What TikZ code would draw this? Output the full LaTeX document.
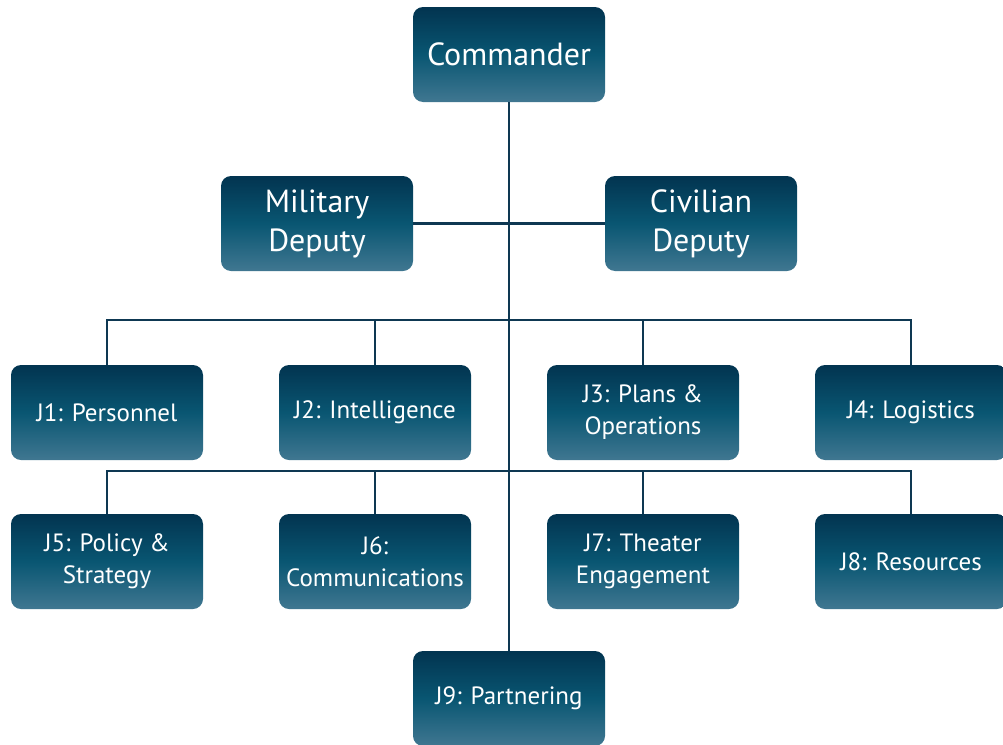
\documentclass[tikz,border=0pt]{standalone}
\usepackage{fontspec}
\setmainfont{PT Sans}
\usetikzlibrary{positioning}

\definecolor{boxtop}{RGB}{2,52,80}
\definecolor{boxmid}{RGB}{9,86,114}
\definecolor{boxbot}{RGB}{64,119,145}
\definecolor{linkcol}{RGB}{14,56,82}

\tikzset{
    orgbox/.style={rounded corners=10pt, minimum width=192pt, minimum height=95pt,
        inner sep=0pt, align=center, text=white,
        top color=boxtop, bottom color=boxbot, middle color=boxmid},
    bigbox/.style={orgbox, font=\fontsize{32}{39}\selectfont},
    smallbox/.style={orgbox, font=\fontsize{25}{32}\selectfont},
    link/.style={linkcol, line width=2.8pt}
}

\begin{document}
\begin{tikzpicture}[x=1pt, y=-1pt]
    \useasboundingbox (0,0) rectangle (1003,744);

    \node[bigbox] (cmd) at (509,54.5) {Commander};
    \node[bigbox] (mil) at (317,223.5) {Military\\Deputy};
    \node[bigbox] (civ) at (701,223.5) {Civilian\\Deputy};

    \node[smallbox] (j1) at (107,412.5) {J1: Personnel};
    \node[smallbox] (j2) at (375,412.5) {J2: Intelligence};
    \node[smallbox] (j3) at (643,412.5) {J3: Plans \&\\Operations};
    \node[smallbox] (j4) at (911,412.5) {J4: Logistics};

    \node[smallbox] (j5) at (107,561.5) {J5: Policy \&\\Strategy};
    \node[smallbox] (j6) at (375,561.5) {J6:\\Communications};
    \node[smallbox] (j7) at (643,561.5) {J7: Theater\\Engagement};
    \node[smallbox] (j8) at (911,561.5) {J8: Resources};

    \node[smallbox] (j9) at (509,698.5) {J9: Partnering};

    \coordinate (busa) at (509,320);
    \coordinate (busb) at (509,471);

    \draw[link] (cmd.south) -- (j9.north);
    \draw[link] (mil.east) -- (civ.west);
    \draw[link] (j1.north) |- (busa) -| (j4.north);
    \draw[link] (j2.north) |- (busa);
    \draw[link] (j3.north) |- (busa);
    \draw[link] (j5.north) |- (busb) -| (j8.north);
    \draw[link] (j6.north) |- (busb);
    \draw[link] (j7.north) |- (busb);
\end{tikzpicture}
\end{document}
